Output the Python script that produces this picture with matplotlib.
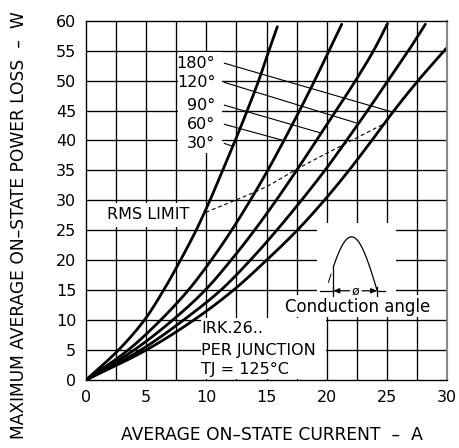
import numpy as np
import matplotlib
matplotlib.use("Agg")
import matplotlib.pyplot as plt
from matplotlib.patches import Rectangle

plt.rcParams['font.family'] = ['DejaVu Sans']

# Power loss levels (W) and the average on-state current (A) at which each
# conduction-angle curve reaches them; last entry is where the curve leaves the chart.
power_levels = [0, 5, 10, 15, 20, 25, 30, 35, 40, 45, 50, 55]

cur_30 = [0, 2.7, 4.85, 6.45, 7.85, 9.15, 10.3, 11.35, 12.4, 13.4, 14.35, 15.2, 15.9]
pow_30 = power_levels + [59.0]

cur_60 = [0, 3.5, 6.2, 8.5, 10.4, 12.1, 13.65, 15.1, 16.45, 17.75, 19.0, 20.2, 21.25]
pow_60 = power_levels + [59.4]

cur_90 = [0, 4.0, 7.2, 9.9, 12.05, 14.0, 15.8, 17.5, 19.15, 20.8, 22.4, 23.9, 25.05]
pow_90 = power_levels + [59.5]

cur_120 = [0, 4.55, 8.1, 11.2, 13.65, 15.85, 17.9, 19.85, 21.65, 23.4, 25.1, 26.8, 28.2]
pow_120 = power_levels + [59.4]

cur_180 = [0, 5.0, 8.95, 12.25, 15.0, 17.55, 19.8, 21.85, 23.75, 25.6, 27.6, 29.95]
pow_180 = power_levels[:11] + [55.4]

curve_labels = ["180°", "120°", "90°", "60°", "30°"]
label_y = [52.9, 49.7, 45.9, 42.7, 39.5]
leader_target = [(25.7, 44.6), (22.5, 42.9), (19.6, 41.2), (15.85, 40.3), (12.4, 38.9)]

# RMS current limit (dashed)
rms_cur = [9.95, 12.4, 15.0, 17.6, 21.0, 24.6]
rms_pow = [28.0, 30.0, 32.3, 35.3, 38.9, 42.6]

x_ticks = [0, 5, 10, 15, 20, 25, 30]
y_ticks = [0, 5, 10, 15, 20, 25, 30, 35, 40, 45, 50, 55, 60]

SX, SY = 12.03, 5.99  # pixels per unit, used to parameterise the splines


def smooth(xs, ys, n=40):
    """Centripetal Catmull-Rom spline through the given points."""
    pts = np.column_stack([np.asarray(xs, float) * SX, np.asarray(ys, float) * SY])
    p = np.vstack([2 * pts[0] - pts[1], pts, 2 * pts[-1] - pts[-2]])
    out = []
    for i in range(1, len(p) - 2):
        p0, p1, p2, p3 = p[i - 1], p[i], p[i + 1], p[i + 2]
        t0 = 0.0
        t1 = t0 + np.linalg.norm(p1 - p0) ** 0.5
        t2 = t1 + np.linalg.norm(p2 - p1) ** 0.5
        t3 = t2 + np.linalg.norm(p3 - p2) ** 0.5
        t = np.linspace(t1, t2, n)[:, None]
        a1 = (t1 - t) / (t1 - t0) * p0 + (t - t0) / (t1 - t0) * p1
        a2 = (t2 - t) / (t2 - t1) * p1 + (t - t1) / (t2 - t1) * p2
        a3 = (t3 - t) / (t3 - t2) * p2 + (t - t2) / (t3 - t2) * p3
        b1 = (t2 - t) / (t2 - t0) * a1 + (t - t0) / (t2 - t0) * a2
        b2 = (t3 - t) / (t3 - t1) * a2 + (t - t1) / (t3 - t1) * a3
        c = (t2 - t) / (t2 - t1) * b1 + (t - t1) / (t2 - t1) * b2
        out.append(c if i == 1 else c[1:])
    res = np.vstack(out)
    return res[:, 0] / SX, res[:, 1] / SY


W, H = 459, 448
fig = plt.figure(figsize=(W / 100, H / 100), dpi=100)
ax = fig.add_axes([86 / W, 68 / H, 361 / W, 359.3 / H])
ax.set_xlim(0, 30)
ax.set_ylim(0, 60)

# grid
for gx in np.arange(2.5, 30, 2.5):
    ax.axvline(gx, color='black', lw=0.95, zorder=1)
for gy in np.arange(5, 60, 5):
    ax.axhline(gy, color='black', lw=0.95, zorder=1)

# white areas behind annotations
boxes = [
    (7.65, 37.9, 11.3 - 7.65, 54.7 - 37.9),    # curve labels
    (1.2, 25.6, 9.2 - 1.2, 29.5 - 25.6),       # RMS LIMIT
    (9.55, 0.15, 19.93 - 9.55, 10.4 - 0.15),   # device note
    (19.2, 14.2, 25.75 - 19.2, 26.2 - 14.2),   # waveform sketch
    (16.1, 10.5, 29.3 - 16.1, 14.2 - 10.5),    # "Conduction angle"
]
for bx, by, bw, bh in boxes:
    ax.add_patch(Rectangle((bx, by), bw, bh, facecolor='white', edgecolor='none', zorder=1.5))

# loss curves
curves = [(cur_180, pow_180), (cur_120, pow_120), (cur_90, pow_90), (cur_60, pow_60), (cur_30, pow_30)]
dense = []
for cx, cy in curves:
    sx, sy = smooth(cx, cy)
    dense.append((sx, sy))
    ax.plot(sx, sy, color='black', lw=2.0, solid_capstyle='round', zorder=3)

# RMS limit
rx, ry = smooth(rms_cur, rms_pow)
ax.plot(rx, ry, color='black', lw=0.8, ls=(0, (3.5, 2.5)), zorder=3)
ax.text(5.2, 27.6, "RMS LIMIT", ha='center', va='center', fontsize=11.5, zorder=4)

# curve labels with leader lines ending on their curve
lead_x0 = 11.5
for lab, ly, (ex, ey), (sx, sy) in zip(curve_labels, label_y, leader_target, dense):
    ax.text(10.75, ly, lab, ha='right', va='center', fontsize=11.5, zorder=4)
    t = np.linspace(0, 1.6, 3000)
    px = lead_x0 + t * (ex - lead_x0)
    py = ly + t * (ey - ly)
    diff = px - np.interp(py, sy, sx)
    k = np.argmax(diff >= 0)
    ax.plot([lead_x0, px[k]], [ly, py[k]], color='black', lw=0.8, zorder=2.5)

# device note
note_lines = ["IRK.26..", "PER JUNCTION", "TJ = 125°C"]
note_y = [8.6, 5.0, 1.7]
for txt, ny in zip(note_lines, note_y):
    ax.text(9.55, ny, txt, ha='left', va='center', fontsize=11.5, zorder=4)

# conduction angle sketch
base = 14.9
amp = 9.0
alpha = np.deg2rad(26)
x_fire, x_end = 20.55, 24.2
span = (x_end - x_fire) / (np.pi - alpha)
x_zero = x_fire - alpha * span
th = np.linspace(alpha, np.pi, 100)
ax.plot(x_zero + th * span, base + amp * np.sin(th), color='black', lw=0.9, zorder=3)
ax.plot([x_fire, x_fire], [base, base + amp * np.sin(alpha)], color='black', lw=0.9, zorder=3)
th0 = np.linspace(np.deg2rad(9), np.deg2rad(18), 10)
ax.plot(x_zero + th0 * span, base + amp * np.sin(th0), color='black', lw=0.7, zorder=3)
ax.plot([19.45, x_fire], [base, base], color='black', lw=0.9, zorder=3)
ax.plot([x_end, 24.85], [base, base], color='black', lw=0.9, zorder=3)
for xt in (x_fire, x_end):
    ax.plot([xt, xt], [base - 0.9, base + 0.6], color='black', lw=0.9, zorder=3)
arrow = dict(arrowstyle='-|>,head_length=0.35,head_width=0.15', color='black', lw=0.9,
             shrinkA=0, shrinkB=0)
ax.annotate("", xy=(x_fire, base), xytext=(21.9, base), arrowprops=arrow, zorder=3)
ax.annotate("", xy=(x_end, base), xytext=(22.95, base), arrowprops=arrow, zorder=3)
ax.text(22.42, base, "ø", ha='center', va='center', fontsize=9, zorder=4)
ax.text(22.6, 12.2, "Conduction angle", ha='center', va='center', fontsize=12, zorder=4)

# axes frame and ticks
for side in ('left', 'bottom', 'top'):
    ax.spines[side].set_color('black')
    ax.spines[side].set_linewidth(1.0)
ax.spines['right'].set_color('#8a8a8a')
ax.spines['right'].set_linewidth(1.5)
for s in ax.spines.values():
    s.set_zorder(5)
ax.set_xticks(x_ticks)
ax.set_yticks(y_ticks)
ax.tick_params(length=0, labelsize=11.5, pad=7)

fig.text(0.041, 0.497, "MAXIMUM AVERAGE ON–STATE POWER LOSS  –  W", rotation=90,
         ha='center', va='center', fontsize=12.3)
fig.text(0.5915, 0.029, "AVERAGE ON–STATE CURRENT  –  A", ha='center', va='center', fontsize=12.3)

fig.savefig("out.png", dpi=100, facecolor='white')
